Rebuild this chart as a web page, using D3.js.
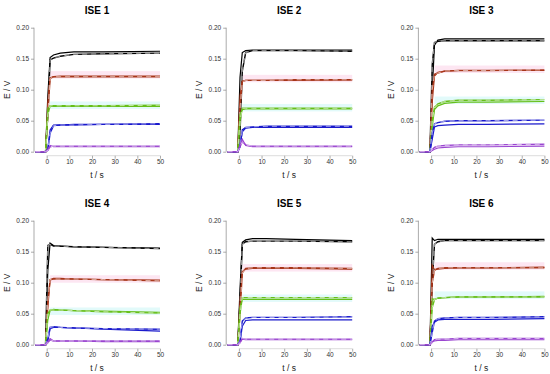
<!DOCTYPE html>
<html>
<head>
<meta charset="utf-8">
<script src="https://cdn.jsdelivr.net/npm/d3@7.9.0/dist/d3.min.js"></script>
<style>
  body { margin: 0; background: #fff; }
  svg { display: block; font-family: "Liberation Sans", Arial, sans-serif; }
</style>
</head>
<body>
<svg id="chart" width="550" height="374"></svg>
<script>
// sample times (s) shared by every trace
const times = [-5, -0.5, 0.5, 1.5, 3, 6, 12, 25, 50];

const panelTitles = ['ISE 1', 'ISE 2', 'ISE 3', 'ISE 4', 'ISE 5', 'ISE 6'];
const groups = ['black', 'red', 'green', 'blue', 'purple'];
const groupColors = ['#000000', '#a8361a', '#66bf1a', '#1a1acc', '#9a45d0'];
const yTicks = [0, 0.05, 0.10, 0.15, 0.20];
const xTicks = [0, 10, 20, 30, 40, 50];

// E / V; "a" = solid trace, "b" = dashed trace
const ise1 = {
  black:  { a: [0, 0, 0.090, 0.152, 0.156, 0.159, 0.161, 0.161, 0.162], b: [0, 0, 0.060, 0.148, 0.151, 0.154, 0.157, 0.158, 0.159] },
  red:    { a: [0, 0, 0.080, 0.119, 0.121, 0.122, 0.122, 0.122, 0.122], b: [0, 0, 0.060, 0.118, 0.121, 0.121, 0.121, 0.121, 0.121] },
  green:  { a: [0, 0, 0.070, 0.073, 0.073, 0.073, 0.073, 0.073, 0.073], b: [0, 0, 0.060, 0.074, 0.074, 0.074, 0.074, 0.074, 0.075] },
  blue:   { a: [0, 0, 0.005, 0.035, 0.043, 0.043, 0.044, 0.044, 0.044], b: [0, 0, 0.003, 0.030, 0.042, 0.043, 0.043, 0.044, 0.045] },
  purple: { a: [0, 0, 0.004, 0.010, 0.008, 0.008, 0.008, 0.008, 0.008], b: [0, 0, 0.002, 0.008, 0.009, 0.009, 0.009, 0.009, 0.009] }
};
const ise2 = {
  black:  { a: [0, 0, 0.120, 0.160, 0.163, 0.164, 0.164, 0.164, 0.164], b: [0, 0, 0.030, 0.130, 0.160, 0.163, 0.163, 0.163, 0.162] },
  red:    { a: [0, 0, 0.090, 0.114, 0.115, 0.115, 0.115, 0.115, 0.116], b: [0, 0, 0.070, 0.113, 0.115, 0.115, 0.115, 0.116, 0.116] },
  green:  { a: [0, 0, 0.060, 0.068, 0.069, 0.069, 0.069, 0.069, 0.069], b: [0, 0, 0.050, 0.070, 0.070, 0.070, 0.070, 0.070, 0.070] },
  blue:   { a: [0, 0, 0.010, 0.032, 0.038, 0.039, 0.039, 0.039, 0.039], b: [0, 0, 0.008, 0.035, 0.039, 0.040, 0.041, 0.041, 0.041] },
  purple: { a: [0, 0, 0.010, 0.020, 0.010, 0.008, 0.008, 0.008, 0.008], b: [0, 0, 0.008, 0.016, 0.011, 0.009, 0.009, 0.009, 0.009] }
};
const ise3 = {
  black:  { a: [0, 0, 0.100, 0.172, 0.180, 0.182, 0.182, 0.182, 0.182], b: [0, 0, 0.140, 0.176, 0.178, 0.179, 0.179, 0.179, 0.179] },
  red:    { a: [0, 0, 0.080, 0.122, 0.128, 0.130, 0.131, 0.131, 0.131], b: [0, 0, 0.100, 0.125, 0.127, 0.130, 0.131, 0.131, 0.132] },
  green:  { a: [0, 0, 0.040, 0.068, 0.074, 0.078, 0.080, 0.080, 0.081], b: [0, 0, 0.050, 0.072, 0.077, 0.081, 0.083, 0.083, 0.084] },
  blue:   { a: [0, 0, 0.020, 0.040, 0.042, 0.043, 0.044, 0.044, 0.045], b: [0, 0, 0.030, 0.045, 0.047, 0.049, 0.050, 0.050, 0.051] },
  purple: { a: [0, 0, 0.002, 0.004, 0.006, 0.007, 0.008, 0.008, 0.009], b: [0, 0, 0.003, 0.007, 0.009, 0.010, 0.011, 0.011, 0.012] }
};
const ise4 = {
  black:  { a: [0, 0, 0.120, 0.164, 0.160, 0.159, 0.158, 0.157, 0.156], b: [0, 0, 0.160, 0.162, 0.159, 0.159, 0.158, 0.157, 0.155] },
  red:    { a: [0, 0, 0.060, 0.104, 0.107, 0.107, 0.106, 0.105, 0.104], b: [0, 0, 0.070, 0.105, 0.106, 0.106, 0.106, 0.105, 0.103] },
  green:  { a: [0, 0, 0.040, 0.055, 0.057, 0.056, 0.055, 0.054, 0.052], b: [0, 0, 0.050, 0.056, 0.056, 0.056, 0.055, 0.053, 0.051] },
  blue:   { a: [0, 0, 0.005, 0.026, 0.028, 0.028, 0.027, 0.025, 0.022], b: [0, 0, 0.010, 0.028, 0.029, 0.028, 0.027, 0.026, 0.025] },
  purple: { a: [0, 0, 0.005, 0.010, 0.006, 0.006, 0.006, 0.005, 0.005], b: [0, 0, 0.003, 0.008, 0.006, 0.006, 0.006, 0.006, 0.006] }
};
const ise5 = {
  black:  { a: [0, 0, 0.090, 0.165, 0.169, 0.171, 0.171, 0.170, 0.168], b: [0, 0, 0.070, 0.162, 0.166, 0.167, 0.167, 0.167, 0.166] },
  red:    { a: [0, 0, 0.070, 0.118, 0.122, 0.123, 0.123, 0.123, 0.122], b: [0, 0, 0.050, 0.116, 0.123, 0.124, 0.124, 0.124, 0.123] },
  green:  { a: [0, 0, 0.060, 0.073, 0.073, 0.073, 0.073, 0.073, 0.073], b: [0, 0, 0.050, 0.076, 0.076, 0.076, 0.076, 0.076, 0.076] },
  blue:   { a: [0, 0, 0.004, 0.030, 0.039, 0.040, 0.040, 0.040, 0.040], b: [0, 0, 0.006, 0.038, 0.043, 0.044, 0.044, 0.044, 0.045] },
  purple: { a: [0, 0, 0.004, 0.009, 0.008, 0.008, 0.008, 0.008, 0.008], b: [0, 0, 0.003, 0.010, 0.009, 0.009, 0.009, 0.009, 0.009] }
};
const ise6 = {
  black:  { a: [0, 0, 0.172, 0.168, 0.170, 0.170, 0.170, 0.170, 0.170], b: [0, 0, 0.100, 0.162, 0.166, 0.168, 0.168, 0.168, 0.168] },
  red:    { a: [0, 0, 0.128, 0.121, 0.122, 0.123, 0.124, 0.124, 0.125], b: [0, 0, 0.100, 0.120, 0.123, 0.124, 0.124, 0.124, 0.124] },
  green:  { a: [0, 0, 0.074, 0.073, 0.075, 0.076, 0.077, 0.077, 0.078], b: [0, 0, 0.060, 0.073, 0.075, 0.076, 0.077, 0.077, 0.077] },
  blue:   { a: [0, 0, 0.030, 0.036, 0.040, 0.041, 0.041, 0.041, 0.042], b: [0, 0, 0.020, 0.038, 0.042, 0.043, 0.044, 0.044, 0.045] },
  purple: { a: [0, 0, 0.005, 0.006, 0.007, 0.007, 0.008, 0.008, 0.008], b: [0, 0, 0.004, 0.008, 0.009, 0.009, 0.010, 0.010, 0.010] }
};
const panelData = [ise1, ise2, ise3, ise4, ise5, ise6];

const svg = d3.select('#chart');

function drawPanel(i) {
  const col = i % 3, row = Math.floor(i / 3);
  const left = 34 + col * 192.2;
  const right = left + 126;
  const bottom = 151.7 + row * 193;
  const top = bottom - 124;

  const x = d3.scaleLinear().domain([-5.6, 50]).range([left, right]);
  const y = d3.scaleLinear().domain([0, 0.2]).range([bottom, top]);
  const g = svg.append('g');
  const data = panelData[i];

  // faint tinted bands behind the red and green plateaus
  [['red', '#fde6f2'], ['green', '#e2fafa']].forEach(([key, fill]) => {
    const v = data[key].a[times.length - 1];
    g.append('rect')
      .attr('x', x(1.5)).attr('width', x(50) - x(1.5))
      .attr('y', y(v + 0.008)).attr('height', y(v - 0.004) - y(v + 0.008))
      .attr('fill', fill);
  });

  // axes, R style
  const yAxis = g.append('g').attr('transform', `translate(${left},0)`)
    .call(d3.axisLeft(y).tickValues(yTicks).tickFormat(d3.format('.2f')).tickSize(3).tickPadding(2));
  const xAxis = g.append('g').attr('transform', `translate(0,${bottom + 4})`)
    .call(d3.axisBottom(x).tickValues(xTicks).tickSize(3).tickPadding(1));
  [yAxis, xAxis].forEach(ax => {
    ax.select('.domain').remove();
    ax.selectAll('line').attr('stroke', '#888').attr('stroke-width', 0.7);
    ax.selectAll('text').attr('fill', '#333').style('font-size', '6.5px');
  });
  g.append('line').attr('x1', left).attr('x2', left).attr('y1', y(0)).attr('y2', y(0.2))
    .attr('stroke', '#888').attr('stroke-width', 0.7);
  g.append('line').attr('x1', x(0)).attr('x2', x(50)).attr('y1', bottom + 4).attr('y2', bottom + 4)
    .attr('stroke', '#bbb').attr('stroke-width', 0.5);

  const line = d3.line().x((d, k) => x(times[k])).y(d => y(d));

  groups.forEach((key, gi) => {
    const color = groupColors[gi];
    g.append('path').attr('d', line(data[key].a))
      .attr('fill', 'none').attr('stroke', color).attr('stroke-width', 1.2);
    g.append('path').attr('d', line(data[key].b))
      .attr('fill', 'none').attr('stroke', color).attr('stroke-width', 1.4);
    g.append('path').attr('d', line(data[key].b))
      .attr('fill', 'none').attr('stroke', '#fff').attr('stroke-width', 0.6)
      .attr('stroke-dasharray', '5,4');
  });

  // titles and axis labels
  const cx = (left + right) / 2;
  g.append('text').attr('x', cx).attr('y', top - 14).attr('text-anchor', 'middle')
    .style('font-size', '10px').style('font-weight', 'bold').text(panelTitles[i]);
  g.append('text').attr('x', cx).attr('y', bottom + 26).attr('text-anchor', 'middle')
    .style('font-size', '8.5px').attr('fill', '#222').text('t / s');
  g.append('text')
    .attr('transform', `translate(${left - 24},${(top + bottom) / 2}) rotate(-90)`)
    .attr('text-anchor', 'middle').style('font-size', '8.5px').attr('fill', '#222').text('E / V');
}

panelTitles.forEach((t, i) => drawPanel(i));
</script>
</body>
</html>
